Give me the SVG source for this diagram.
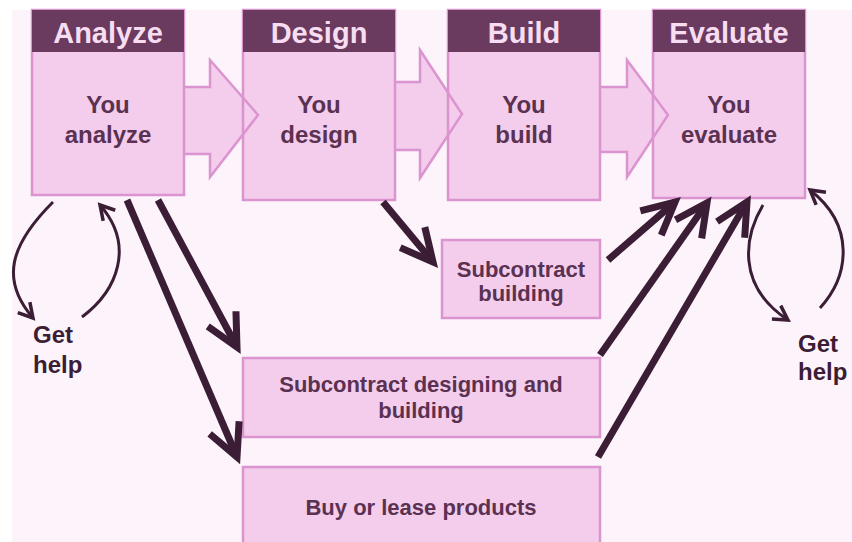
<svg xmlns="http://www.w3.org/2000/svg" width="852" height="542" viewBox="0 0 852 542">
<style>
.box{fill:#f3cdeb;stroke:#dc94d0;stroke-width:2.5}
.hdr{fill:#6a3a5f}
.htxt{font-family:"Liberation Sans",Arial,sans-serif;font-weight:bold;font-size:29px;fill:#f7ddf1;text-anchor:middle}
.btxt{font-family:"Liberation Sans",Arial,sans-serif;font-weight:bold;font-size:24px;fill:#5b3152;text-anchor:middle}
.stxt{font-family:"Liberation Sans",Arial,sans-serif;font-weight:bold;font-size:22px;fill:#5b3152;text-anchor:middle}
.help{font-family:"Liberation Sans",Arial,sans-serif;font-weight:bold;font-size:24px;fill:#3b1d35}
.chev{fill:#f3cdeb;stroke:none}
.chevline{fill:none;stroke:#dc94d0;stroke-width:2.5;stroke-linejoin:miter}
.thick{fill:none;stroke:#3b1d35;stroke-width:7;marker-end:url(#vbig)}
.thin{fill:none;stroke:#3b1d35;stroke-width:3;marker-end:url(#vsmall)}
</style>
<defs>
<marker id="vbig" markerUnits="userSpaceOnUse" orient="auto" refX="0" refY="0" markerWidth="40" markerHeight="40" overflow="visible">
<path d="M-32,-16 L0,0 L-32,16" fill="none" stroke="#3b1d35" stroke-width="7" stroke-linejoin="miter"/>
</marker>
<marker id="vsmall" markerUnits="userSpaceOnUse" orient="auto" refX="0" refY="0" markerWidth="20" markerHeight="20" overflow="visible">
<path d="M-14,-8 L0,0 L-14,8" fill="none" stroke="#3b1d35" stroke-width="3.5" stroke-linejoin="miter"/>
</marker>
</defs>
<rect x="0" y="0" width="852" height="542" fill="#ffffff"/>
<rect x="12" y="10" width="840" height="532" fill="#fdf4fb"/>

<g id="flow-arrows-fill">
<path class="chev" d="M180,87 H210 V60 L258,115 L210,177 V154 H180 Z"/>
<path class="chev" d="M391,82 H420 V50 L462,114 L420,178 V150 H391 Z"/>
<path class="chev" d="M596,87 H627 V60 L668,115 L627,177 V152 H596 Z"/>
</g>

<g id="analyze">
<rect class="box" x="32" y="10" width="152" height="185"/>
<rect class="hdr" x="32" y="10" width="152" height="42"/>
<text class="htxt" x="108" y="43">Analyze</text>
<text class="btxt" x="108" y="113">You</text>
<text class="btxt" x="108" y="143">analyze</text>
</g>
<g id="design">
<rect class="box" x="243" y="10" width="152" height="190"/>
<rect class="hdr" x="243" y="10" width="152" height="42"/>
<text class="htxt" x="319" y="43">Design</text>
<text class="btxt" x="319" y="113">You</text>
<text class="btxt" x="319" y="143">design</text>
</g>
<g id="build">
<rect class="box" x="448" y="10" width="152" height="190"/>
<rect class="hdr" x="448" y="10" width="152" height="42"/>
<text class="htxt" x="524" y="43">Build</text>
<text class="btxt" x="524" y="113">You</text>
<text class="btxt" x="524" y="143">build</text>
</g>
<g id="evaluate">
<rect class="box" x="653" y="10" width="152" height="188"/>
<rect class="hdr" x="653" y="10" width="152" height="42"/>
<text class="htxt" x="729" y="43">Evaluate</text>
<text class="btxt" x="729" y="113">You</text>
<text class="btxt" x="729" y="143">evaluate</text>
</g>

<g id="flow-arrows-outline">
<path class="chevline" d="M184,87 H210 V60 L258,115 L210,177 V154 H184"/>
<path class="chevline" d="M395,82 H420 V50 L462,114 L420,178 V150 H395"/>
<path class="chevline" d="M600,87 H627 V60 L668,115 L627,177 V152 H600"/>
</g>

<g id="subcontract-building">
<rect class="box" x="442" y="240" width="158" height="78"/>
<text class="stxt" x="521" y="277">Subcontract</text>
<text class="stxt" x="521" y="301">building</text>
</g>
<g id="subcontract-designing-building">
<rect class="box" x="243" y="358" width="357" height="79"/>
<text class="stxt" x="421" y="392">Subcontract designing and</text>
<text class="stxt" x="421" y="418">building</text>
</g>
<g id="buy-lease">
<rect class="box" x="243" y="467" width="357" height="90"/>
<text class="stxt" x="421" y="515">Buy or lease products</text>
</g>

<g id="get-help-left">
<text class="help" x="33" y="343">Get</text>
<text class="help" x="33" y="373">help</text>
</g>
<g id="get-help-right">
<text class="help" x="798" y="352">Get</text>
<text class="help" x="798" y="380">help</text>
</g>

<g id="connectors">
<path class="thin" d="M53,202 C10,245 0,280 33,318"/>
<path class="thin" d="M82,317 C118,290 135,245 100,205"/>
<path class="thick" d="M127,200 L237,457"/>
<path class="thick" d="M158,200 L237,347"/>
<path class="thick" d="M383,202 L433,262"/>
<path class="thick" d="M608,260 L675,202"/>
<path class="thick" d="M600,355 L707,203"/>
<path class="thick" d="M598,457 L747,202"/>
<path class="thin" d="M763,205 C745,235 735,285 788,320"/>
<path class="thin" d="M820,308 C850,275 855,225 810,190"/>
</g>
</svg>
